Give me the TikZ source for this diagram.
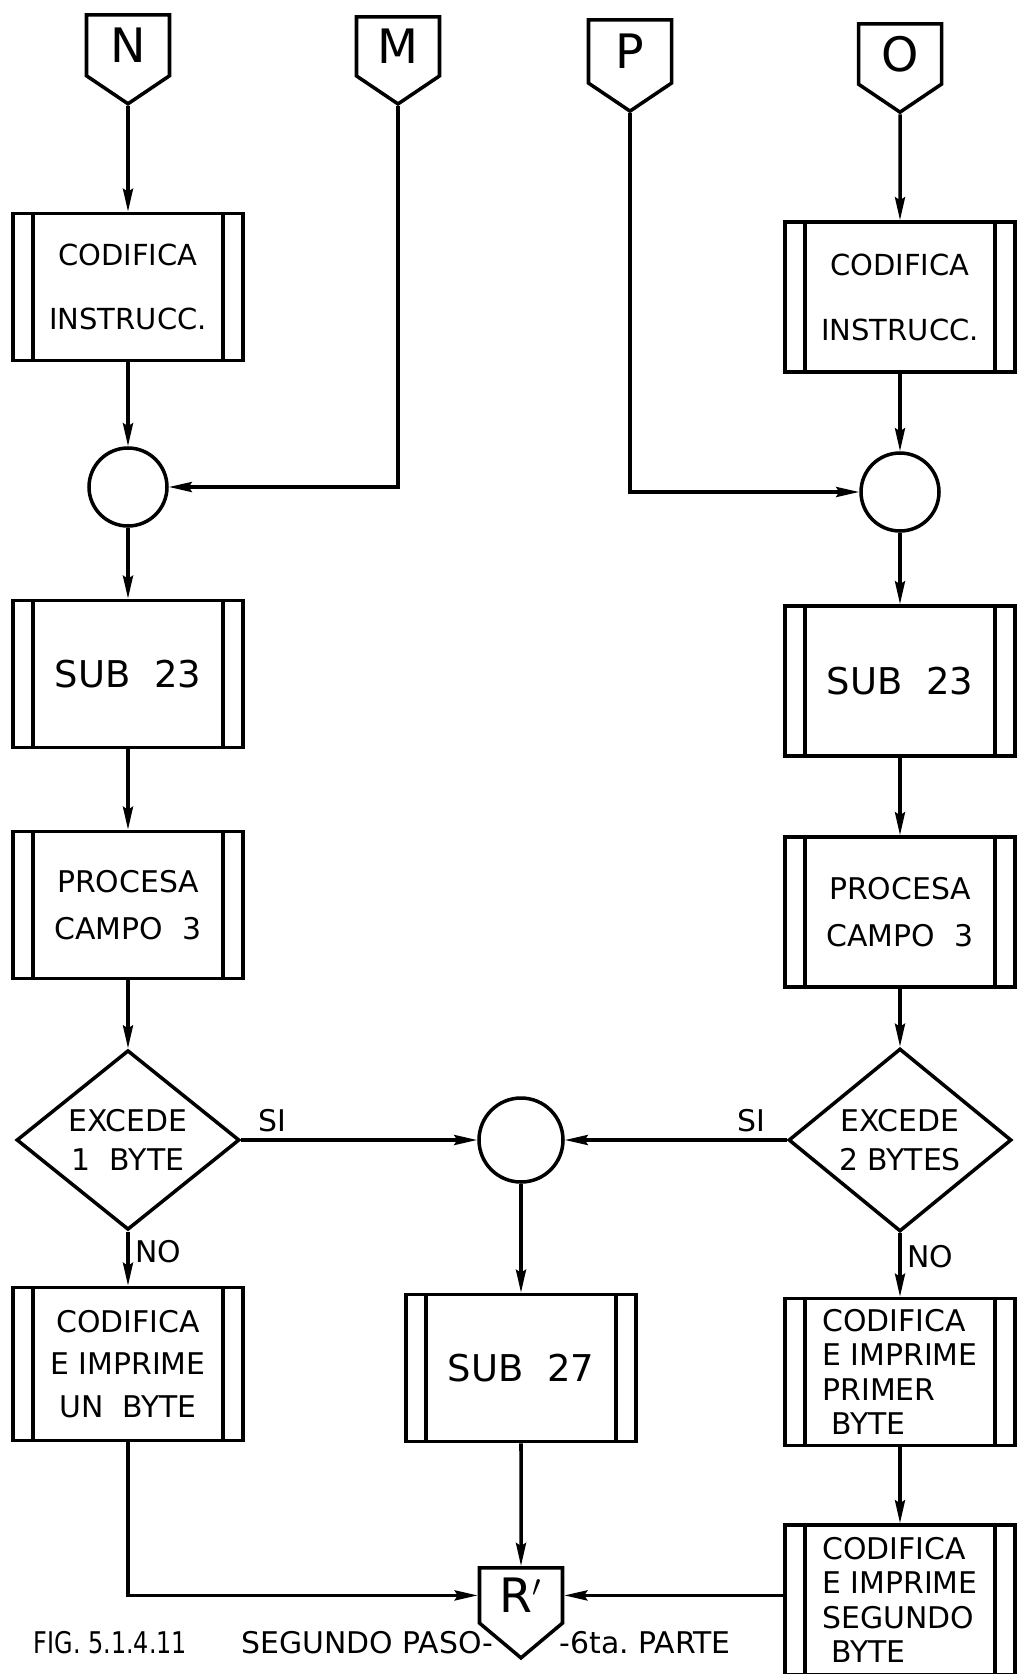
\documentclass[tikz,border=0pt]{standalone}
\usepackage{fontspec}
\setmainfont{DejaVu Sans}
\usetikzlibrary{shapes.geometric, shapes.symbols, arrows.meta}

\tikzset{
  proc/.style={draw, rectangle, minimum width=4.6cm, minimum height=2.94cm, inner sep=0pt, align=center,
    path picture={
      \draw ([xshift=0.4cm]path picture bounding box.north west) -- ([xshift=0.4cm]path picture bounding box.south west);
      \draw ([xshift=-0.4cm]path picture bounding box.north east) -- ([xshift=-0.4cm]path picture bounding box.south east);
    }},
  conn/.style={draw, circle, minimum size=1.56cm, inner sep=0pt},
  decide/.style={draw, diamond, minimum width=4.46cm, minimum height=2.92cm, inner sep=0pt, align=center},
  offp/.style={draw, signal, signal to=south, signal from=nowhere, signal pointer angle=112,
    minimum width=1.66cm, minimum height=1.46cm, inner sep=0pt, anchor=north, font=\fontsize{27}{27}\selectfont},
  leyenda/.style={inner sep=0pt, font=\fontsize{17}{20}\selectfont},
}

\begin{document}
\begin{tikzpicture}[>={Stealth[length=0.46cm, width=0.2cm, inset=0.06cm]}, line width=2pt, font=\fontsize{17}{22}\selectfont]
    \useasboundingbox (0,0) rectangle (20.34,-33.48);

    % Conectores de entrada
    \node[offp] (N) at (2.56,-0.26) {N};
    \node[offp] (M) at (7.96,-0.30) {M};
    \node[offp] (P) at (12.60,-0.36) {P};
    \node[offp] (O) at (18.00,-0.44) {O};

    % Rama izquierda
    \node[proc, font=\fontsize{16.5}{36}\selectfont] (codL) at (2.56,-5.74) {CODIFICA\\INSTRUCC.};
    \node[conn] (cirL) at (2.56,-9.74) {};
    \node[proc, font=\fontsize{21}{26}\selectfont] (subL) at (2.56,-13.48) {SUB\ \ 23};
    \node[proc, font=\fontsize{17}{27}\selectfont] (procL) at (2.56,-18.10) {PROCESA\\CAMPO\ \ 3};
    \node[decide] (decL) at (2.56,-22.80) {EXCEDE\\1\ \ BYTE};
    \node[proc, minimum height=3.06cm, font=\fontsize{17}{24}\selectfont] (byteL) at (2.56,-27.28) {CODIFICA\\E IMPRIME\\UN\ \ BYTE};

    % Rama derecha
    \node[proc, minimum height=3cm, font=\fontsize{16.5}{37}\selectfont] (codR) at (18.00,-5.94) {CODIFICA\\INSTRUCC.};
    \node[conn] (cirR) at (18.00,-9.84) {};
    \node[proc, minimum height=3cm, font=\fontsize{21}{26}\selectfont] (subR) at (18.00,-13.62) {SUB\ \ 23};
    \node[proc, minimum height=3cm, font=\fontsize{17}{27}\selectfont] (procR) at (18.00,-18.24) {PROCESA\\CAMPO\ \ 3};
    \node[decide] (decR) at (18.00,-22.80) {EXCEDE\\2 BYTES};
    \node[proc, align=left, font=\fontsize{17}{19.5}\selectfont] (primR) at (18.00,-27.44) {CODIFICA\\E IMPRIME\\PRIMER\\\hspace{0.3em}BYTE};
    \node[proc, minimum height=3cm, align=left, font=\fontsize{17}{19.5}\selectfont] (segR) at (18.00,-32.00) {CODIFICA\\E IMPRIME\\SEGUNDO\\\hspace{0.3em}BYTE};

    % Centro
    \node[conn, minimum size=1.68cm] (cirC) at (10.42,-22.80) {};
    \node[proc, font=\fontsize{21}{26}\selectfont] (subC) at (10.42,-27.36) {SUB\ \ 27};
    \node[offp, signal pointer angle=100] (Rp) at (10.42,-31.32) {R$'$};

    % Flechas
    \draw[->] (N) -- (codL);
    \draw[->] (codL) -- (cirL);
    \draw[->] (M.south) |- (cirL.east);
    \draw[->] (cirL) -- (subL);
    \draw[->] (subL) -- (procL);
    \draw[->] (procL) -- (decL);
    \draw[->] (decL) -- (byteL) node[pos=0.37, right] {NO};
    \draw[->] (decL) -- (cirC) node[pos=0.13, above] {SI};
    \draw[->] (byteL.south) |- (Rp.west);

    \draw[->] (O) -- (codR);
    \draw[->] (codR) -- (cirR);
    \draw[->] (P.south) |- (cirR.west);
    \draw[->] (cirR) -- (subR);
    \draw[->] (subR) -- (procR);
    \draw[->] (procR) -- (decR);
    \draw[->] (decR) -- (primR) node[pos=0.37, right] {NO};
    \draw[->] (decR) -- (cirC) node[pos=0.16, above] {SI};
    \draw[->] (primR) -- (segR);
    \draw[->] (Rp.east -| segR.west) -- (Rp.east);

    \draw[->] (cirC) -- (subC);
    \draw[->] (subC) -- (Rp);

    % Leyenda
    \node[leyenda, anchor=west] (fig) at (0.64,-32.86) {\scalebox{0.8}[1]{FIG.\ 5.1.4.11}};
    \node[leyenda, anchor=east] (pasoA) at (9.90,-32.86) {SEGUNDO PASO-};
    \node[leyenda, anchor=west] (pasoB) at (11.16,-32.86) {-6ta.\ PARTE};

\end{tikzpicture}
\end{document}
